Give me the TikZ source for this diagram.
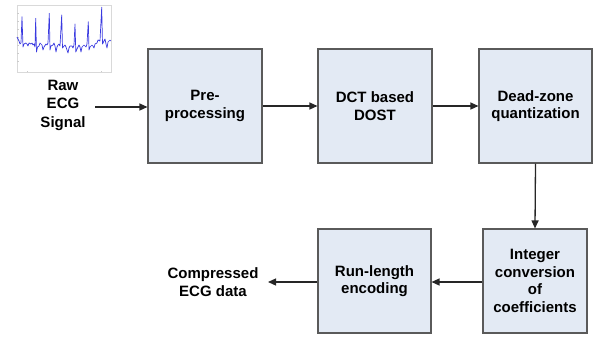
\documentclass[tikz,border=0pt]{standalone}
\usepackage{fontspec}
\setmainfont{Liberation Sans}
\usetikzlibrary{arrows.meta}
\definecolor{boxfill}{HTML}{E3EAF4}
\definecolor{boxline}{HTML}{5A5A5A}
\definecolor{ecg}{HTML}{3A3AE0}
\begin{document}
\begin{tikzpicture}[x=1pt,y=-1pt,
  blk/.style={draw=boxline,fill=boxfill,line width=1.1pt,align=center,
    font=\fontsize{15}{17.5}\selectfont\bfseries,inner sep=0pt},
  lbl/.style={align=center,font=\fontsize{15}{18.5}\selectfont\bfseries},
  conn/.style={draw=black!85,line width=1.3pt,-{Triangle[length=8pt,width=7pt]}}]
\useasboundingbox (0,0) rectangle (600,338);
% ECG thumbnail
\draw[black!15,line width=0.5pt] (17,5) rectangle (111,72);
\foreach \yy in {13,21,29,37,45,53,61} {\draw[black!20,line width=0.4pt] (17,\yy) -- (18.5,\yy);}
\foreach \xx in {27,101} {\draw[black!20,line width=0.4pt] (\xx,72) -- (\xx,70.5);}
\draw[ecg,line width=0.7pt,line join=round]
 (17,37) -- (19,41) -- (20,44) -- (21,43) -- (22,16.7) -- (23,47) -- (24,44) -- (26,43) -- (27,44) -- (28,46) -- (29,43)
 -- (31,44) -- (32,43) -- (33,45) -- (34,44) -- (35,47) -- (35.7,18.3) -- (36.5,52) -- (37.5,47) -- (39,46) -- (40,43) -- (42,45) -- (43,50) -- (44,47)
 -- (46,44) -- (47,45) -- (48,43) -- (49.3,13.3) -- (50,50) -- (51,46) -- (53,45) -- (54,43) -- (55,46) -- (56,52) -- (57,47)
 -- (58,45) -- (59,44) -- (60,46) -- (61.7,15) -- (62.5,48) -- (64,46) -- (65,45) -- (66,47) -- (68,53) -- (69,48)
 -- (70,46) -- (72,46) -- (73,48) -- (74,45) -- (75,24) -- (75.8,52) -- (77,49) -- (79,45) -- (80,47) -- (81,52) -- (82,47)
 -- (84,45) -- (85,46) -- (86,47) -- (87,44) -- (88.3,21.7) -- (89,50) -- (90,47) -- (92,45) -- (93,46) -- (94,48) -- (95,44)
 -- (97,43) -- (98,40) -- (100,41) -- (101.7,7.3) -- (102.5,44) -- (104,41) -- (105,39) -- (106,44) -- (107,48) -- (108,42) -- (110,40) -- (111,41);
% text
\node[lbl] (raw) at (63,105) {Raw\\ECG\\Signal};
\node[lbl] (out) at (213,282) {Compressed\\ECG data};
% blocks
\node[blk,minimum width=114pt,minimum height=114pt] (pre) at (205,106) {Pre-\\processing};
\node[blk,minimum width=114pt,minimum height=114pt] (dct) at (375,106) {DCT based\\DOST};
\node[blk,minimum width=113pt,minimum height=114pt] (dzq) at (535.5,106) {Dead-zone\\quantization};
\node[blk,minimum width=104pt,minimum height=104pt] (int) at (535,281) {Integer\\conversion\\of\\coefficients};
\node[blk,minimum width=113pt,minimum height=104pt] (rle) at (374.5,281) {Run-length\\encoding};
% connectors
\coordinate (rawend) at (95,107);
\draw[conn] (rawend) -- (pre.west |- rawend);
\draw[conn] (pre) -- (dct);
\draw[conn] (dct) -- (dzq);
\draw[conn] (dzq.south) -- (int.north);
\draw[conn] (int.west |- 0,282) -- (rle.east |- 0,282);
\coordinate (outend) at (268,282);
\draw[conn] (rle.west |- 0,282) -- (outend);
\end{tikzpicture}
\end{document}
